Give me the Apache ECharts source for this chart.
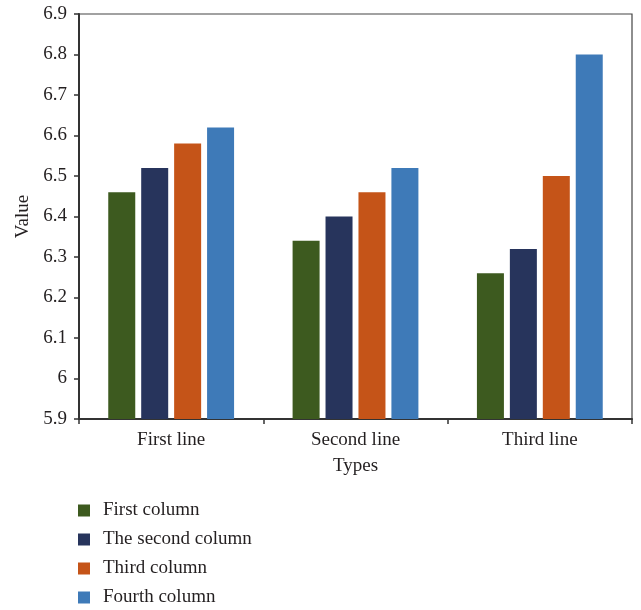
<!DOCTYPE html>
<html>
<head>
<meta charset="utf-8">
<script src="https://cdn.jsdelivr.net/npm/echarts@6/dist/echarts.min.js"></script>
<style>html,body{margin:0;padding:0;background:#fff}#c{width:641px;height:610px}</style>
</head>
<body>
<div id="c"></div>
<script>
var categories = ['First line', 'Second line', 'Third line'];
var seriesNames = ['First column', 'The second column', 'Third column', 'Fourth column'];
var firstColumn = [6.46, 6.34, 6.26];
var secondColumn = [6.52, 6.40, 6.32];
var thirdColumn = [6.58, 6.46, 6.50];
var fourthColumn = [6.62, 6.52, 6.80];
var yTicks = [5.9, 6, 6.1, 6.2, 6.3, 6.4, 6.5, 6.6, 6.7, 6.8, 6.9];
var colors = ['#3D5A1F', '#27345C', '#C55418', '#3E7AB8'];
var font = 'Liberation Serif';

var chart = echarts.init(document.getElementById('c'));
var values = [firstColumn, secondColumn, thirdColumn, fourthColumn];
chart.setOption({
  animation: false,
  color: colors,
  grid: { left: 79, right: 9, top: 14, bottom: 191, show: true, borderColor: '#444', borderWidth: 1.2, containLabel: false },
  legend: {
    orient: 'vertical', left: 73, top: 496, height: 120,
    icon: 'rect', itemWidth: 12, itemHeight: 12, itemGap: 10,
    textStyle: { fontFamily: font, fontSize: 19, color: '#231f20', padding: [0, 0, 0, 8] },
    data: seriesNames
  },
  xAxis: {
    type: 'category', data: categories,
    name: 'Types', nameLocation: 'middle', nameGap: 38,
    nameTextStyle: { fontFamily: font, fontSize: 19, color: '#231f20' },
    axisLine: { lineStyle: { color: '#333', width: 2 } },
    axisTick: { show: true, length: 5, lineStyle: { color: '#333', width: 1.5 } },
    axisLabel: { fontFamily: font, fontSize: 19, color: '#231f20', margin: 12 }
  },
  yAxis: {
    type: 'value', min: 5.9, max: 6.9, interval: 0.1,
    name: 'Value', nameLocation: 'middle', nameGap: 45,
    nameTextStyle: { fontFamily: font, fontSize: 19, color: '#231f20' },
    axisLine: { show: true, lineStyle: { color: '#333', width: 2 } },
    axisTick: { show: true, length: 5, lineStyle: { color: '#333', width: 1.5 } },
    splitLine: { show: false },
    axisLabel: {
      fontFamily: font, fontSize: 19, color: '#231f20', margin: 12,
      formatter: function (v) {
        var r = Math.round(v * 10) / 10;
        for (var i = 0; i < yTicks.length; i++) if (Math.abs(yTicks[i] - r) < 1e-6) return String(yTicks[i]);
        return '';
      }
    }
  },
  series: seriesNames.map(function (n, i) {
    return { name: n, type: 'bar', data: values[i], barWidth: 27, barGap: '22%', itemStyle: { color: colors[i] } };
  })
});
</script>
</body>
</html>
